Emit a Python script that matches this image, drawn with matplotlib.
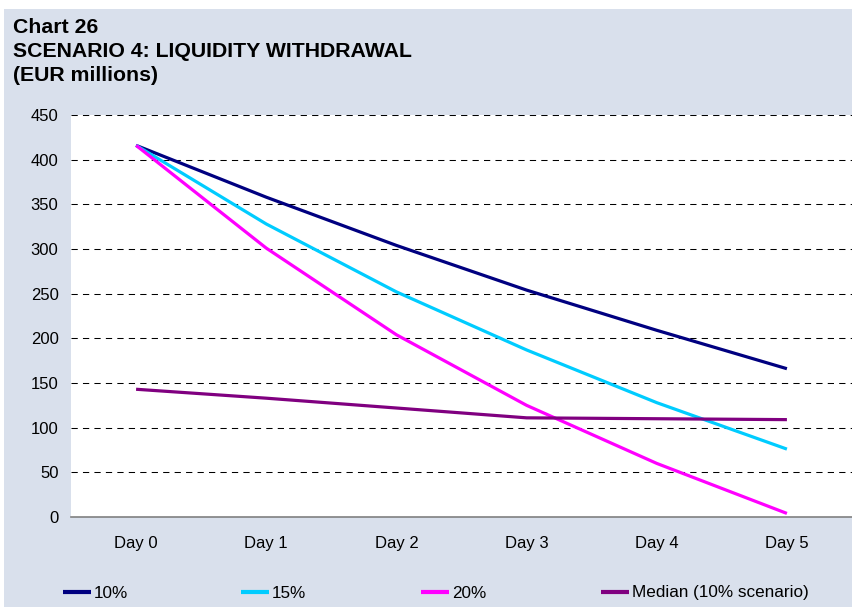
import matplotlib
matplotlib.use("Agg")
import matplotlib.pyplot as plt
from matplotlib.patches import Rectangle

plt.rcParams['font.family'] = ['Liberation Sans', 'DejaVu Sans']

days = ["Day 0", "Day 1", "Day 2", "Day 3", "Day 4", "Day 5"]
s10 = [416, 358, 304, 254, 209, 166]
s15 = [416, 328, 252, 187, 128, 76]
s20 = [416, 301, 204, 125, 60, 4]
median10 = [143, 133, 122, 111, 110, 109]
series_labels = ["10%", "15%", "20%", "Median (10% scenario)"]
yticks = [0, 50, 100, 150, 200, 250, 300, 350, 400, 450]

colors = ["#000080", "#00CCFF", "#FF00FF", "#800080"]
bg = "#D9E0EC"

W, H = 852, 607
fig = plt.figure(figsize=(W / 100, H / 100), dpi=100, facecolor="white")
fig.patches.append(Rectangle((4 / W, 0), 1 - 4 / W, 1 - 9 / H,
                             transform=fig.transFigure, facecolor=bg,
                             edgecolor="none", zorder=-10))

ax = fig.add_axes([71 / W, (H - 517) / H, (W - 71) / W, (517 - 115) / H])
ax.set_facecolor("white")

x = list(range(len(days)))
lines = []
for vals, c in zip([s10, s15, s20, median10], colors):
    ln, = ax.plot(x, vals, color=c, lw=2.3, solid_capstyle="butt",
                  solid_joinstyle="round", zorder=3)
    lines.append(ln)

ax.set_xlim(-0.5, 5.5)
ax.set_ylim(0, 450)
ax.set_yticks(yticks)
ax.set_xticks(x)
ax.set_xticklabels(days)
for yv in yticks[1:]:
    ax.axhline(yv, color="black", lw=0.75, linestyle=(0, (6, 5)), zorder=1)

for s in ["top", "right", "left"]:
    ax.spines[s].set_visible(False)
ax.spines["bottom"].set_color("#808080")
ax.spines["bottom"].set_linewidth(1.2)
ax.spines["bottom"].set_zorder(4)
ax.tick_params(axis="both", length=0, labelsize=12, colors="black")
ax.tick_params(axis="x", pad=14)
ax.tick_params(axis="y", pad=9)

for txt, yb in [("Chart 26", 33), ("SCENARIO 4: LIQUIDITY WITHDRAWAL", 57),
                ("(EUR millions)", 81)]:
    fig.text(13 / W, 1 - yb / H, txt, fontsize=15.3, fontweight="bold",
             va="baseline", ha="left")

xs = [63, 241, 421, 601]
for ln, lab, xp in zip(lines, series_labels, xs):
    lg = fig.legend([ln], [lab], loc="center left",
                    bbox_to_anchor=(xp / W, 1 - 593 / H), frameon=False,
                    fontsize=12.3, borderpad=0, borderaxespad=0,
                    handlelength=1.65, handletextpad=0.15)
    for h in lg.legend_handles:
        h.set_linewidth(3)

fig.savefig("out.png", dpi=100, facecolor=fig.get_facecolor())
